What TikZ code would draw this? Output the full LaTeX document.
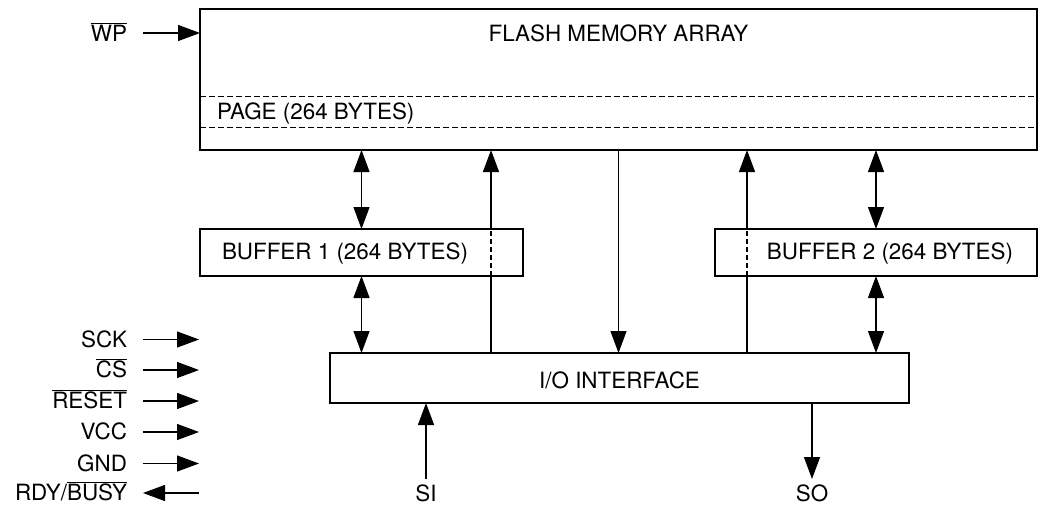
\documentclass[tikz,border=0pt]{standalone}
\usepackage{fontspec}
\setmainfont{TeX Gyre Heros}
\usetikzlibrary{arrows.meta}
\newcommand\ovl[1]{$\overline{\mbox{#1}}$}
\begin{document}
\begin{tikzpicture}[x=1pt,y=-1pt,
  every node/.style={font=\fontsize{22.4}{27}\selectfont, inner sep=0pt, outer sep=0pt},
  box/.style={draw, line width=2pt, fill=white, anchor=north west},
  tip/.tip={Triangle[length=22pt,width=16pt]},
  sig/.style={line width=1.2pt, -tip},
  dbl/.style={line width=1.2pt, tip-tip},
  plain/.style={line width=1.2pt},
  pagedash/.style={line width=1pt, dash pattern=on 6pt off 3pt},
  thru/.style={line width=1.2pt, dash pattern=on 5pt off 3pt}]
\useasboundingbox[fill=white] (0,0) rectangle (1043,506);

% boxes
\node[box, minimum width=837pt, minimum height=141pt] (flash) at (200,9) {};
\node[box, minimum width=323pt, minimum height=47pt] (buf1) at (200,229) {};
\node[box, minimum width=322pt, minimum height=47pt] (buf2) at (715,229) {};
\node[box, minimum width=579pt, minimum height=50pt] (io) at (330,353) {};

% texts in boxes
\node[anchor=base] (flashlbl) at (618.5,41) {FLASH MEMORY ARRAY};
\node[anchor=base west] (pagelbl) at (217,119.5) {PAGE (264 BYTES)};
\node[anchor=base west] (buf1lbl) at (222,259.5) {BUFFER 1 (264 BYTES)};
\node[anchor=base east] (buf2lbl) at (1013,259.5) {BUFFER 2 (264 BYTES)};
\node[anchor=base] (iolbl) at (619.5,388.5) {I/O INTERFACE};

% page dashed lines
\coordinate (d1) at (0,96);
\coordinate (d2) at (0,127);
\draw[pagedash] (flash.west |- d1) -- (flash.east |- d1);
\draw[pagedash] (flash.west |- d2) -- (flash.east |- d2);

% bidirectional buffer links
\draw[dbl] (buf1.north) -- (buf1.north |- flash.south);
\draw[dbl] (buf1.south) -- (buf1.south |- io.north);
\draw[dbl] (buf2.north) -- (buf2.north |- flash.south);
\draw[dbl] (buf2.south) -- (buf2.south |- io.north);

% direct links I/O <-> array
\coordinate (ua) at (491,0);
\coordinate (ub) at (747,0);
\draw[plain] (io.north -| ua) -- (buf1.south -| ua);
\draw[thru] (buf1.south -| ua) -- (buf1.north -| ua);
\draw[sig] (buf1.north -| ua) -- (flash.south -| ua);
\draw[plain] (io.north -| ub) -- (buf2.south -| ub);
\draw[thru] (buf2.south -| ub) -- (buf2.north -| ub);
\draw[sig] (buf2.north -| ub) -- (flash.south -| ub);
\draw[sig] (flash.south) -- (io.north -| flash.south);

% WP
\node[anchor=base east] (wp) at (127,41) {\ovl{WP}};
\coordinate (wpin) at (143,33);
\draw[sig] (wpin) -- (flash.west |- wpin);

% left pins
\node[anchor=base east] (sck) at (127,347) {SCK};
\node[anchor=base east] (cs) at (127,377.5) {\ovl{CS}};
\node[anchor=base east] (rst) at (127,408.5) {\ovl{RESET}};
\node[anchor=base east] (vcc) at (127,439.5) {VCC};
\node[anchor=base east] (gnd) at (127,471) {GND};
\node[anchor=base east] (rdy) at (127,500.5) {RDY/\ovl{BUSY}};
\foreach \n/\y in {sck/339.5, cs/370, rst/401, vcc/432, gnd/463.5}{
  \coordinate (\n a) at (143,\y);
  \coordinate (\n b) at (199,\y);
  \draw[sig] (\n a) -- (\n b);
}
\coordinate (rdya) at (143,493);
\coordinate (rdyb) at (199,493);
\draw[sig] (rdyb) -- (rdya);

% SI / SO
\node[anchor=base] (si) at (426,501) {SI};
\node[anchor=base] (so) at (812,501) {SO};
\coordinate (siend) at (426,479);
\coordinate (soend) at (812,479);
\draw[sig] (siend) -- (io.south -| siend);
\draw[sig] (io.south -| soend) -- (soend);
\end{tikzpicture}
\end{document}
